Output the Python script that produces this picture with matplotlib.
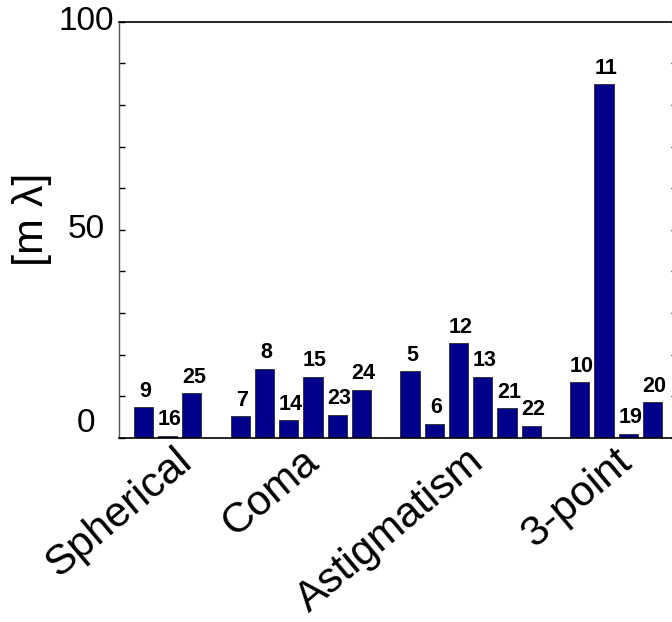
import matplotlib
matplotlib.use("Agg")
import matplotlib.pyplot as plt
import numpy as np
from matplotlib.transforms import ScaledTranslation, blended_transform_factory

plt.rcParams['font.family'] = ['Liberation Sans', 'DejaVu Sans']

# Aberration groups, Zernike term indices and RMS contributions [m lambda]
groups = ["Spherical", "Coma", "Astigmatism", "3-point"]
spherical_ids = [9, 16, 25]
spherical_vals = [7.3, 0.4, 10.7]
coma_ids = [7, 8, 14, 15, 23, 24]
coma_vals = [5.1, 16.6, 4.2, 14.6, 5.5, 11.5]
astig_ids = [5, 6, 12, 13, 21, 22]
astig_vals = [16.0, 3.3, 22.7, 14.6, 7.1, 2.8]
trefoil_ids = [10, 11, 19, 20]
trefoil_vals = [13.3, 85.0, 0.9, 8.5]
y_tick_labels = ["0", "50", "100"]

group_ids = [spherical_ids, coma_ids, astig_ids, trefoil_ids]
group_vals = [spherical_vals, coma_vals, astig_vals, trefoil_vals]

W, H, DPI = 672, 622, 100
fig = plt.figure(figsize=(W / DPI, H / DPI), dpi=DPI)
# axes run past the right edge of the canvas
left, right, bottom, top = 119, 676.8, 437.7, 21.7
ax = fig.add_axes([left / W, 1 - bottom / H, (right - left) / W, (bottom - top) / H])

bar_color = "#00008B"
slot = 0
centers = []
for ids, vals in zip(group_ids, group_vals):
    xs = np.arange(slot, slot + len(vals))
    ax.bar(xs, vals, width=0.8, color=bar_color, edgecolor="#2a2a2a", linewidth=0.6)
    for x, v, i in zip(xs, vals, ids):
        ax.annotate(str(i), (x, v), xytext=(1.5, 4), textcoords="offset points",
                    ha="center", va="bottom", fontsize=15.5, fontweight="bold")
    centers.append(xs.mean())
    slot += len(vals) + 1

ax.set_xlim(-1, slot - 1)
ax.set_ylim(0, 100)
ax.set_xticks([])
ax.set_yticks(np.arange(0, 101, 10))
ax.tick_params(axis="y", direction="in", length=4.3, width=1.0,
               left=True, right=True, labelleft=False, labelright=False)
for s in ax.spines.values():
    s.set_linewidth(1.2)
ax.spines["left"].set_color("#555555")
ax.spines["left"].set_linewidth(1.0)

# y tick labels, centred to the left of the axis
ytr = blended_transform_factory(fig.transFigure, ax.transData)
label_offsets = {"0": 14, "50": 0, "100": 0}
for lab in y_tick_labels:
    tr = ytr + ScaledTranslation(0, label_offsets[lab] / DPI, fig.dpi_scale_trans)
    ax.text(86 / W, float(lab), lab, transform=tr, ha="center", va="center",
            fontsize=24, clip_on=False)

# rotated group names below the bars
xtr = blended_transform_factory(ax.transData, ax.transAxes)
nudges = [7, 1, -4, -1]
for c, name, dx in zip(centers, groups, nudges):
    tr = xtr + ScaledTranslation((-1 + dx) / DPI, -3 / DPI, fig.dpi_scale_trans)
    ax.text(c, 0, name, transform=tr, rotation=40, rotation_mode="anchor",
            ha="right", va="top", fontsize=30.5, clip_on=False)

fig.text(31.7 / W, 1 - 219 / H, "[m \u03bb]", rotation=90, ha="center", va="center",
         fontsize=31)

fig.savefig("out.png", dpi=DPI)
